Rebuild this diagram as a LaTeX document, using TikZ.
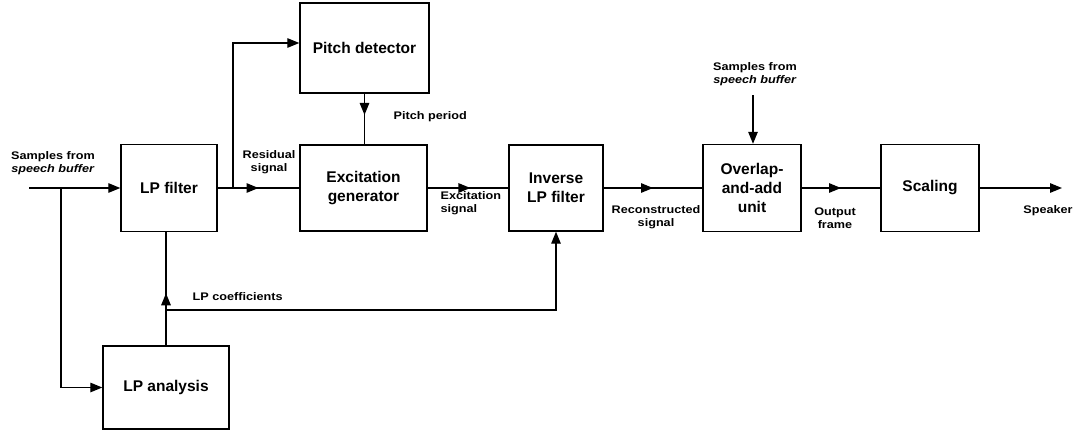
\documentclass[tikz,border=0pt]{standalone}
\usepackage{fontspec}
\setmainfont{Liberation Sans}
\newfontfamily\lblfont[FakeStretch=1.15]{Liberation Sans}
\usetikzlibrary{arrows.meta,decorations.markings,calc}
\begin{document}
\begin{tikzpicture}[x=1pt,y=-1pt,
  >={Triangle[length=12pt,width=9.5pt]},
  line width=1.3pt,
  blk/.style={draw, line width=1.4pt, align=center, inner sep=0pt,
    font=\fontsize{15.5}{19}\selectfont\bfseries},
  lbl/.style={align=center, inner sep=0pt,
    font=\lblfont\fontsize{11}{13.3}\selectfont\bfseries},
  mid/.style={postaction={decorate}, decoration={markings,
    mark=at position #1 with {\arrow{>}}}},
  mid/.default=0.5]
\useasboundingbox (0,0) rectangle (1076,431);

% blocks
\node[blk, minimum width=96pt, minimum height=87pt] (filt) at (169,188) {LP filter};
\node[blk, minimum width=126pt, minimum height=83pt] (ana) at (166,387.5) {LP analysis};
\node[blk, minimum width=129pt, minimum height=90pt] (pitch) at (364.5,48) {Pitch detector};
\node[blk, minimum width=127pt, minimum height=86pt] (exc) at (363.5,188) {Excitation\\generator};
\node[blk, minimum width=94pt, minimum height=86pt] (inv) at (556,188) {Inverse\\LP filter};
\node[blk, minimum width=98pt, minimum height=87pt] (ola) at (752,188) {Overlap-\\and-add\\unit};
\node[blk, minimum width=98pt, minimum height=87pt] (scal) at (930,188) {Scaling};

% labels
\node[lbl] (lin) at (53,163) {Samples from\\\textit{speech buffer}};
\node[lbl, anchor=west] (lcoef) at (192,297) {LP coefficients};
\node[lbl] (lres) at (269,162) {Residual\\signal};
\node[lbl, anchor=west] (lpp) at (393,117) {Pitch period};
\node[lbl, anchor=west, align=left] (lexc) at (440,203) {Excitation\\signal};
\node[lbl] (lrec) at (656,217) {Reconstructed\\signal};
\node[lbl] (ltop) at (755,74.5) {Samples from\\\textit{speech buffer}};
\node[lbl] (lout) at (835,218) {Output\\frame};
\node[lbl] (lspk) at (1048,211) {Speaker};

% coordinates
\coordinate (in) at (29,188);
\coordinate (b1) at (61,188);
\coordinate (coef) at (166,310);
\coordinate (br) at (233,188);
\coordinate (top) at (753,95);
\coordinate (spk) at (1062,188);

% connectors
\draw[->] (in) -- (filt.west);
\draw[->] (b1) |- (ana.west);
\draw[mid=0.46] (ana.north) -- (ana.north |- filt.south);
\draw[->] (coef) -| (inv.south);
\draw[mid=0.5] (filt.east) -- (exc.west);
\draw[->] (br) |- ([yshift=5pt]pitch.west);
\draw[mid=0.42] (pitch.south) -- (pitch.south |- exc.north);
\draw[mid=0.53] (exc.east) -- (inv.west);
\draw[mid=0.5] (inv.east) -- (ola.west);
\draw[->] (top) -- (top |- ola.north);
\draw[mid=0.5] (ola.east) -- (scal.west);
\draw[->] (scal.east) -- (spk);
\end{tikzpicture}
\end{document}
